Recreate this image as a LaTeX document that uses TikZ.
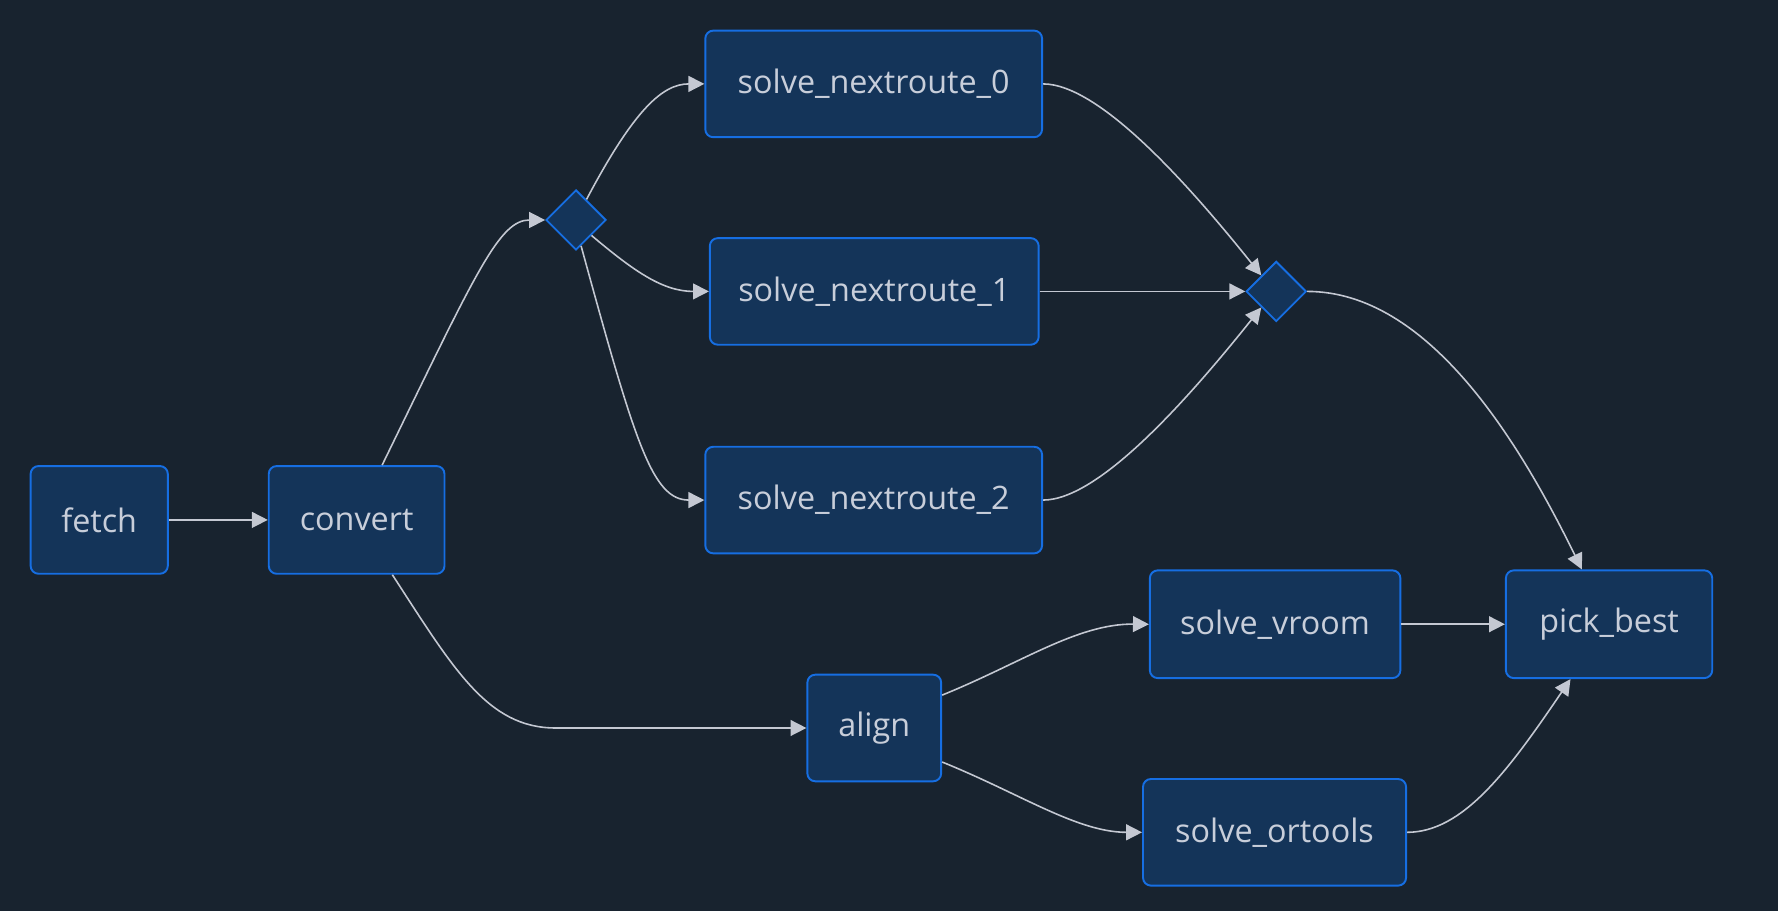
\documentclass[tikz,border=0pt]{standalone}
\usepackage{fontspec}
\setmainfont{Open Sans}
\usetikzlibrary{shapes.geometric,arrows.meta}
\definecolor{bgc}{RGB}{24,35,47}
\definecolor{nodefill}{RGB}{20,52,89}
\definecolor{nodeline}{RGB}{22,110,226}
\definecolor{txt}{RGB}{200,206,218}
\definecolor{edgec}{RGB}{196,200,210}
\tikzset{
  box/.style={draw=nodeline, fill=nodefill, line width=1.7pt, rounded corners=7pt,
    inner sep=0pt, minimum height=95pt, text=txt,
    font=\fontsize{28.5}{34}\selectfont},
  gate/.style={diamond, aspect=1, draw=nodeline, fill=nodefill, line width=1.6pt,
    inner sep=0pt, minimum width=53pt, minimum height=53pt},
  link/.style={draw=edgec, line width=1.4pt, -{Triangle[length=14pt,width=14pt]}},
}
\begin{document}
\begin{tikzpicture}[x=1pt,y=-1pt]
\useasboundingbox[fill=bgc] (0,0) rectangle (1568,803);
\node[box, minimum width=121pt] (fetch) at (87.5,458.5) {fetch};
\node[box, minimum width=155pt] (convert) at (314.5,458.5) {convert};
\node[gate] (d1) at (508,194) {};
\node[box, minimum width=297pt, minimum height=94pt] (sn0) at (770.5,74) {solve\_nextroute\_0};
\node[box, minimum width=290pt, minimum height=94pt] (sn1) at (771,257) {solve\_nextroute\_1};
\node[box, minimum width=297pt, minimum height=94pt] (sn2) at (770.5,441) {solve\_nextroute\_2};
\node[gate] (d2) at (1125.5,257) {};
\node[box, minimum width=118pt, minimum height=94pt] (align) at (771,642) {align};
\node[box, minimum width=221pt] (vroom) at (1124.5,550.5) {solve\_vroom};
\node[box, minimum width=232pt, minimum height=94pt] (ortools) at (1124,734) {solve\_ortools};
\node[box, minimum width=182pt] (pick) at (1419,550.5) {pick\_best};

\draw[link] (fetch.east) -- (convert.west);
\draw[link] ([xshift=22.5pt]convert.north) .. controls (420,240) and (440,194) .. (d1.west);
\draw[link] (d1.63) .. controls (560,95) and (585,74) .. (sn0.west);
\draw[link] (d1.-45) .. controls (560,240) and (585,257) .. (sn1.west);
\draw[link] (d1.-79) .. controls (560,390) and (575,441) .. (sn2.west);
\draw[link] (sn0.east) .. controls (970,74) and (1050,165) .. (d2.133);
\draw[link] (sn1.east) -- (d2.west);
\draw[link] (sn2.east) .. controls (970,441) and (1050,349) .. (d2.227);
\draw[link] (d2.east) .. controls (1260,257) and (1340,390) .. ([xshift=-24pt]pick.north);
\draw[link] ([xshift=31.5pt]convert.south) .. controls (400,590) and (430,642) .. (490,642) -- (align.west);
\draw[link] ([yshift=29pt]align.east) .. controls (900,585) and (950,550) .. (vroom.west);
\draw[link] ([yshift=-30pt]align.east) .. controls (900,700) and (950,734) .. (ortools.west);
\draw[link] (vroom.east) -- (pick.west);
\draw[link] (ortools.east) .. controls (1290,734) and (1330,680) .. ([xshift=-34pt]pick.south);
\end{tikzpicture}
\end{document}
